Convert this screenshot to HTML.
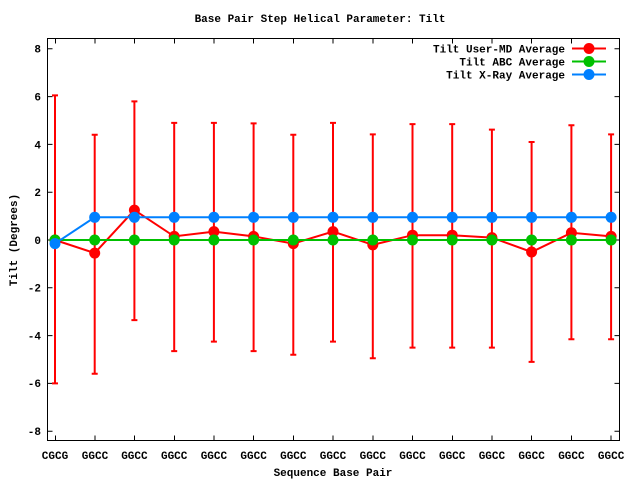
<!DOCTYPE html>
<html><head><meta charset="utf-8"><style>html,body{margin:0;padding:0;background:#fff}svg{display:block}text{font-family:"Liberation Mono",monospace;font-weight:bold;font-size:11px;fill:#000}</style></head><body>
<svg width="640" height="480" xmlns="http://www.w3.org/2000/svg">
<rect width="640" height="480" fill="#fff"/>
<text x="320" y="22" text-anchor="middle">Base Pair Step Helical Parameter: Tilt</text>
<g stroke="#000" stroke-width="1">
<rect x="47.5" y="38.5" width="572" height="402" fill="none"/>
<path d="M47.5 48.8h5M47.5 96.6h5M47.5 144.4h5M47.5 192.2h5M47.5 240h5M47.5 287.8h5M47.5 335.6h5M47.5 383.4h5M47.5 431.2h5
M619.5 48.8h-5M619.5 96.6h-5M619.5 144.4h-5M619.5 192.2h-5M619.5 240h-5M619.5 287.8h-5M619.5 335.6h-5M619.5 383.4h-5M619.5 431.2h-5
M55.5 440.5v-5M95 440.5v-5M134.5 440.5v-5M174.5 440.5v-5M214 440.5v-5M253.5 440.5v-5M293.5 440.5v-5M333 440.5v-5M373 440.5v-5M412.5 440.5v-5M452.5 440.5v-5M492 440.5v-5M531.5 440.5v-5M571.5 440.5v-5M611 440.5v-5
M55.5 38.5v5M95 38.5v5M134.5 38.5v5M174.5 38.5v5M214 38.5v5M253.5 38.5v5M293.5 38.5v5M333 38.5v5M373 38.5v5M412.5 38.5v5M452.5 38.5v5M492 38.5v5M531.5 38.5v5M571.5 38.5v5"/>
</g>
<g text-anchor="end">
<text x="41" y="52.5">8</text><text x="41" y="100.5">6</text><text x="41" y="148.5">4</text><text x="41" y="196">2</text><text x="41" y="244">0</text><text x="41" y="291.5">-2</text><text x="41" y="339.5">-4</text><text x="41" y="387">-6</text><text x="41" y="435">-8</text>
</g>
<g text-anchor="middle">
<text x="55" y="459">CGCG</text><text x="95" y="459">GGCC</text><text x="134.4" y="459">GGCC</text><text x="174.2" y="459">GGCC</text><text x="213.9" y="459">GGCC</text><text x="253.6" y="459">GGCC</text><text x="293.3" y="459">GGCC</text><text x="333" y="459">GGCC</text><text x="372.8" y="459">GGCC</text><text x="412.5" y="459">GGCC</text><text x="452.2" y="459">GGCC</text><text x="491.9" y="459">GGCC</text><text x="531.6" y="459">GGCC</text><text x="571.4" y="459">GGCC</text><text x="611.1" y="459">GGCC</text>
<text x="333" y="476">Sequence Base Pair</text>
<text transform="translate(17,240) rotate(-90)">Tilt (Degrees)</text>
</g>
<g stroke="#f00" stroke-width="2" fill="none">
<path d="M55 95.4V383.4M52 95.4h6M52 383.4h6
M94.7 134.8V373.8M91.7 134.8h6M91.7 373.8h6
M134.4 101.4V320.1M131.4 101.4h6M131.4 320.1h6
M174.2 122.9V351.1M171.2 122.9h6M171.2 351.1h6
M213.9 122.9V341.6M210.9 122.9h6M210.9 341.6h6
M253.6 123.4V351.1M250.6 123.4h6M250.6 351.1h6
M293.3 134.8V354.7M290.3 134.8h6M290.3 354.7h6
M333 122.9V341.6M330 122.9h6M330 341.6h6
M372.8 134.4V358.3M369.8 134.4h6M369.8 358.3h6
M412.5 124.1V347.6M409.5 124.1h6M409.5 347.6h6
M452.2 124.1V347.6M449.2 124.1h6M449.2 347.6h6
M491.9 129.6V347.6M488.9 129.6h6M488.9 347.6h6
M531.6 142V361.9M528.6 142h6M528.6 361.9h6
M571.4 125.3V339.2M568.4 125.3h6M568.4 339.2h6
M611.1 134.4V339.2M608.1 134.4h6M608.1 339.2h6"/>
<polyline points="55,240 94.7,253.1 134.4,210.1 174.2,236.4 213.9,231.6 253.6,236.4 293.3,243.6 333,231.6 372.8,244.8 412.5,235.2 452.2,235.2 491.9,237.6 531.6,252 571.4,232.8 611.1,236.4"/>
</g>
<g fill="#f00">
<circle cx="55" cy="240" r="5.5"/><circle cx="94.7" cy="253.1" r="5.5"/><circle cx="134.4" cy="210.1" r="5.5"/><circle cx="174.2" cy="236.4" r="5.5"/><circle cx="213.9" cy="231.6" r="5.5"/><circle cx="253.6" cy="236.4" r="5.5"/><circle cx="293.3" cy="243.6" r="5.5"/><circle cx="333" cy="231.6" r="5.5"/><circle cx="372.8" cy="244.8" r="5.5"/><circle cx="412.5" cy="235.2" r="5.5"/><circle cx="452.2" cy="235.2" r="5.5"/><circle cx="491.9" cy="237.6" r="5.5"/><circle cx="531.6" cy="252" r="5.5"/><circle cx="571.4" cy="232.8" r="5.5"/><circle cx="611.1" cy="236.4" r="5.5"/>
</g>
<path d="M55 240H611.1" stroke="#00c000" stroke-width="2"/>
<g fill="#00c000">
<circle cx="55" cy="240" r="5.5"/><circle cx="94.7" cy="240" r="5.5"/><circle cx="134.4" cy="240" r="5.5"/><circle cx="174.2" cy="240" r="5.5"/><circle cx="213.9" cy="240" r="5.5"/><circle cx="253.6" cy="240" r="5.5"/><circle cx="293.3" cy="240" r="5.5"/><circle cx="333" cy="240" r="5.5"/><circle cx="372.8" cy="240" r="5.5"/><circle cx="412.5" cy="240" r="5.5"/><circle cx="452.2" cy="240" r="5.5"/><circle cx="491.9" cy="240" r="5.5"/><circle cx="531.6" cy="240" r="5.5"/><circle cx="571.4" cy="240" r="5.5"/><circle cx="611.1" cy="240" r="5.5"/>
</g>
<polyline points="55,243.6 94.7,217.3 611.1,217.3" stroke="#0080ff" stroke-width="2" fill="none"/>
<g fill="#0080ff">
<circle cx="55" cy="243.6" r="5.5"/><circle cx="94.7" cy="217.3" r="5.5"/><circle cx="134.4" cy="217.3" r="5.5"/><circle cx="174.2" cy="217.3" r="5.5"/><circle cx="213.9" cy="217.3" r="5.5"/><circle cx="253.6" cy="217.3" r="5.5"/><circle cx="293.3" cy="217.3" r="5.5"/><circle cx="333" cy="217.3" r="5.5"/><circle cx="372.8" cy="217.3" r="5.5"/><circle cx="412.5" cy="217.3" r="5.5"/><circle cx="452.2" cy="217.3" r="5.5"/><circle cx="491.9" cy="217.3" r="5.5"/><circle cx="531.6" cy="217.3" r="5.5"/><circle cx="571.4" cy="217.3" r="5.5"/><circle cx="611.1" cy="217.3" r="5.5"/>
</g>
<g text-anchor="end">
<text x="565" y="52.5">Tilt User-MD Average</text>
<text x="565" y="65.5">Tilt ABC Average</text>
<text x="565" y="78.5">Tilt X-Ray Average</text>
</g>
<path d="M572 48.5h34" stroke="#f00" stroke-width="2"/><circle cx="589" cy="48.5" r="5.5" fill="#f00"/>
<path d="M572 61.5h34" stroke="#00c000" stroke-width="2"/><circle cx="589" cy="61.5" r="5.5" fill="#00c000"/>
<path d="M572 74.5h34" stroke="#0080ff" stroke-width="2"/><circle cx="589" cy="74.5" r="5.5" fill="#0080ff"/>
</svg>
</body></html>
